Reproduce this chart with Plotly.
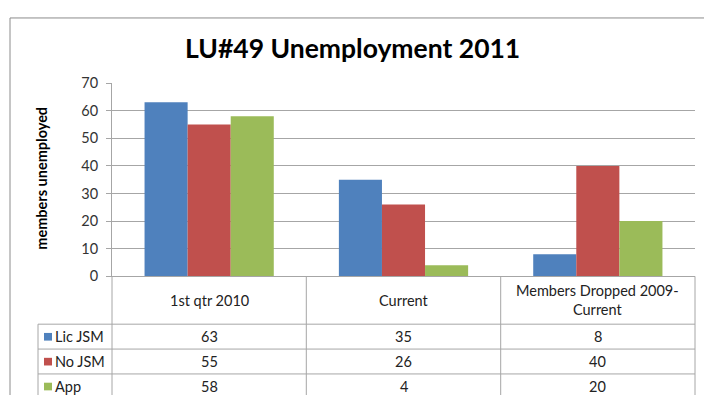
import plotly.graph_objects as go

categories = ["1st qtr 2010", "Current", "Members Dropped 2009-Current"]
category_labels = ["1st qtr 2010", "Current", "Members Dropped 2009-<br>Current"]
series_names = ["Lic JSM", "No JSM", "App"]
lic_jsm = [63, 35, 8]
no_jsm = [55, 26, 40]
app = [58, 4, 20]
y_ticks = [0, 10, 20, 30, 40, 50, 60, 70]

series_values = [lic_jsm, no_jsm, app]
colors = ["#4F81BD", "#C0504D", "#9BBB59"]

# page is 712x411; body keeps its default 8px margin, so the figure is 696x395
OFF = 8
W, H = 712 - 2 * OFF, 411 - 2 * OFF
def px(x):
    return (x - OFF) / W
def py(y):
    return 1 - (y - OFF) / H

FONT = "Lato, 'Open Sans', sans-serif"
plot_l, plot_r, plot_t, plot_b = 112, 695, 77, 279
leg_l = 38
col_edges = [112, 306.3, 500.7, 695]
row_edges = [329, 355, 381, 403]
grid_col = "#A6A6A6"
TXT = 14.5

fig = go.Figure()
for name, vals, c in zip(series_names, series_values, colors):
    fig.add_trace(go.Bar(x=categories, y=vals, name=name, marker=dict(color=c, line=dict(width=0))))

shapes = []
line = dict(color=grid_col, width=1)
# outer chart border (left and top edges, inside the figure)
shapes.append(dict(type="line", xref="paper", yref="paper", x0=px(10), x1=px(10), y0=py(9), y1=0, line=dict(color="#8C8C8C", width=1)))
shapes.append(dict(type="line", xref="paper", yref="paper", x0=px(10), x1=1, y0=py(9), y1=py(9), line=dict(color="#8C8C8C", width=1)))
for x in col_edges:
    shapes.append(dict(type="line", xref="paper", yref="paper", x0=px(x), x1=px(x), y0=py(plot_b), y1=0, line=line))
shapes.append(dict(type="line", xref="paper", yref="paper", x0=px(leg_l), x1=px(leg_l), y0=py(row_edges[0]), y1=0, line=line))
for y in row_edges[:-1]:
    shapes.append(dict(type="line", xref="paper", yref="paper", x0=px(leg_l), x1=px(plot_r), y0=py(y), y1=py(y), line=line))
row_h = 26.3
for i, c in enumerate(colors):
    yc = row_edges[i] + row_h / 2
    shapes.append(dict(type="rect", xref="paper", yref="paper", x0=px(44), x1=px(52), y0=py(yc - 4), y1=py(yc + 4), line=dict(width=0), fillcolor=c))

annotations = []
annotations.append(dict(text="<b>LU#49 Unemployment 2011</b>", xref="paper", yref="paper", x=px(352), y=py(40), showarrow=False, font=dict(family=FONT, size=26.5, color="#000"), xanchor="center", yanchor="middle"))
annotations.append(dict(text="<b>members unemployed</b>", xref="paper", yref="paper", x=px(42), y=py(177), textangle=-90, showarrow=False, font=dict(family=FONT, size=14.5, color="#000"), xanchor="center", yanchor="middle"))
for i, lab in enumerate(category_labels):
    xc = (col_edges[i] + col_edges[i + 1]) / 2
    annotations.append(dict(text=lab, xref="paper", yref="paper", x=px(xc), y=py((plot_b + row_edges[0]) / 2), showarrow=False, font=dict(family=FONT, size=TXT, color="#222"), xanchor="center", yanchor="middle"))
for r, (name, vals) in enumerate(zip(series_names, series_values)):
    yc = row_edges[r] + row_h / 2
    annotations.append(dict(text=name, xref="paper", yref="paper", x=px(53), y=py(yc), showarrow=False, font=dict(family=FONT, size=TXT, color="#222"), xanchor="left", yanchor="middle"))
    for i, v in enumerate(vals):
        xc = (col_edges[i] + col_edges[i + 1]) / 2
        annotations.append(dict(text=str(v), xref="paper", yref="paper", x=px(xc), y=py(yc), showarrow=False, font=dict(family=FONT, size=TXT, color="#222"), xanchor="center", yanchor="middle"))

fig.update_layout(
    width=W, height=H,
    margin=dict(l=0, r=0, t=0, b=0),
    paper_bgcolor="white", plot_bgcolor="white",
    barmode="group", bargap=0.335, bargroupgap=0,
    showlegend=False,
    shapes=shapes, annotations=annotations,
    xaxis=dict(domain=[px(plot_l), px(plot_r)], showticklabels=False, ticks="", showgrid=False,
               showline=True, linecolor=grid_col, linewidth=1, zeroline=False, fixedrange=True),
    yaxis=dict(domain=[py(plot_b), py(plot_t)], range=[0, 70], tickvals=y_ticks, ticks="outside", ticklen=5,
               tickcolor=grid_col, showline=True, linecolor=grid_col, linewidth=1, gridcolor=grid_col,
               zeroline=False, tickfont=dict(family=FONT, size=14.5, color="#333"), ticklabelstandoff=5),
)

fig.write_html("out.html", config={"displayModeBar": False})
